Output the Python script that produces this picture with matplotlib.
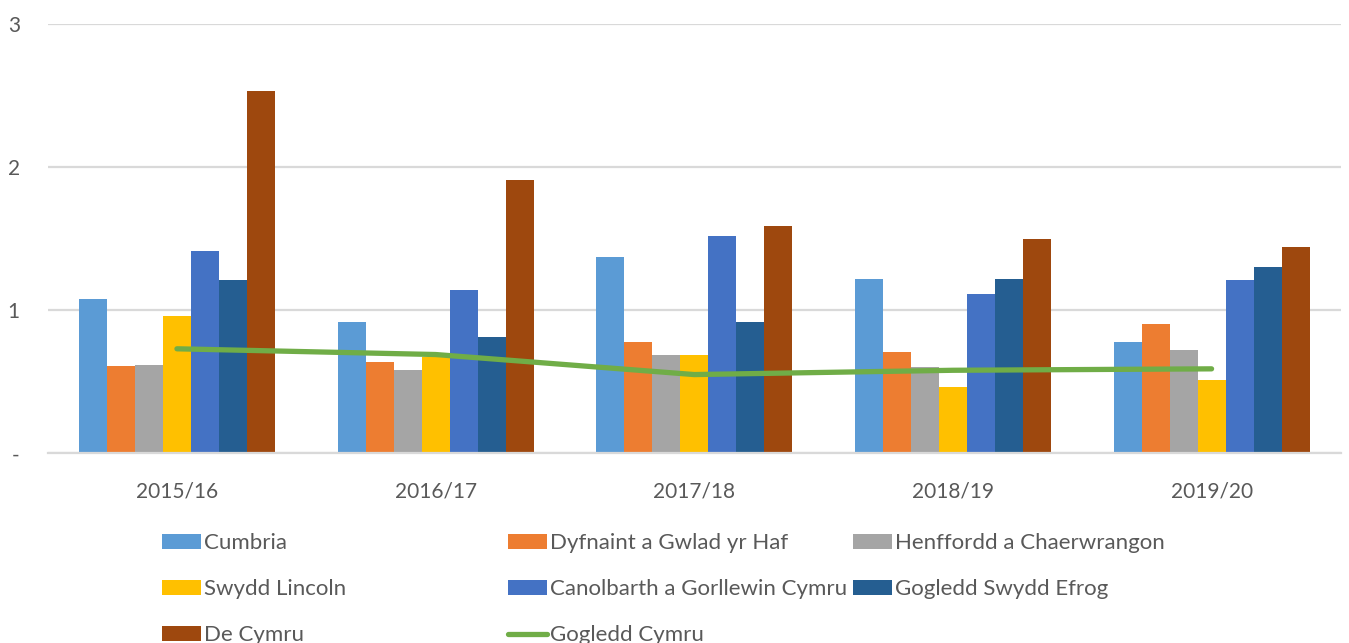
import matplotlib
matplotlib.use("Agg")
import matplotlib.pyplot as plt
from matplotlib.patches import Patch
from matplotlib.lines import Line2D
import numpy as np

plt.rcParams['font.family'] = ['Lato', 'DejaVu Sans']

years = ["2015/16", "2016/17", "2017/18", "2018/19", "2019/20"]

cumbria = [1.08, 0.92, 1.37, 1.22, 0.78]
dyfnaint = [0.61, 0.64, 0.78, 0.71, 0.90]
henffordd = [0.62, 0.58, 0.69, 0.60, 0.72]
swydd_lincoln = [0.96, 0.67, 0.69, 0.46, 0.51]
canolbarth = [1.41, 1.14, 1.52, 1.11, 1.21]
gogledd_swydd_efrog = [1.21, 0.81, 0.92, 1.22, 1.30]
de_cymru = [2.53, 1.91, 1.59, 1.50, 1.44]
gogledd_cymru = [0.73, 0.69, 0.55, 0.58, 0.59]

bar_series = [
    ("Cumbria", cumbria, "#5b9bd5"),
    ("Dyfnaint a Gwlad yr Haf", dyfnaint, "#ed7d31"),
    ("Henffordd a Chaerwrangon", henffordd, "#a5a5a5"),
    ("Swydd Lincoln", swydd_lincoln, "#ffc000"),
    ("Canolbarth a Gorllewin Cymru", canolbarth, "#4472c4"),
    ("Gogledd Swydd Efrog", gogledd_swydd_efrog, "#255e91"),
    ("De Cymru", de_cymru, "#9e480e"),
]
line_name = "Gogledd Cymru"
line_color = "#70ad47"
text_color = "#595959"
grid_color = "#d9d9d9"

fig = plt.figure(figsize=(13.49, 6.43), dpi=100)
ax = fig.add_axes([0.0353, 0.295, 0.9587, 0.668])

x = np.arange(len(years))
w = 0.1082
handles = {}
for i, (name, vals, col) in enumerate(bar_series):
    ax.bar(x + (i - 3) * w, vals, width=w, color=col, zorder=2)
    handles[name] = Patch(facecolor=col)
ax.plot(x, gogledd_cymru, color=line_color, lw=3.8, solid_capstyle="round", zorder=3)
handles[line_name] = Line2D([0], [0], color=line_color, lw=3.8, solid_capstyle="round")

ax.set_xlim(-0.5, len(years) - 0.5)
ax.set_ylim(0, 3)
ax.set_yticks([0, 1, 2, 3])
ax.set_yticklabels(["-", "1", "2", "3"])
ax.set_xticks(x)
ax.set_xticklabels(years)
ax.yaxis.grid(True, color=grid_color, lw=1.6, zorder=0)
ax.set_axisbelow(True)
for s in ["top", "right", "left"]:
    ax.spines[s].set_visible(False)
ax.spines["bottom"].set_color(grid_color)
ax.spines["bottom"].set_linewidth(1.6)
ax.tick_params(axis="both", length=0, colors=text_color, labelsize=15)
ax.tick_params(axis="y", pad=20)
ax.tick_params(axis="x", pad=20)

# legend laid out as three equal-width columns
columns = [
    ["Cumbria", "Swydd Lincoln", "De Cymru"],
    ["Dyfnaint a Gwlad yr Haf", "Canolbarth a Gorllewin Cymru", line_name],
    ["Henffordd a Chaerwrangon", "Gogledd Swydd Efrog"],
]
col_x = [162, 508, 853]
for cx, names in zip(col_x, columns):
    fig.legend([handles[n] for n in names], names,
               loc="upper left",
               bbox_to_anchor=(cx / 1349, 1 - 533 / 643),
               frameon=False, fontsize=16, labelcolor=text_color,
               handlelength=1.75, handleheight=0.65, handletextpad=0.15,
               labelspacing=1.18, borderpad=0, borderaxespad=0)

fig.savefig("out.png", dpi=100)
